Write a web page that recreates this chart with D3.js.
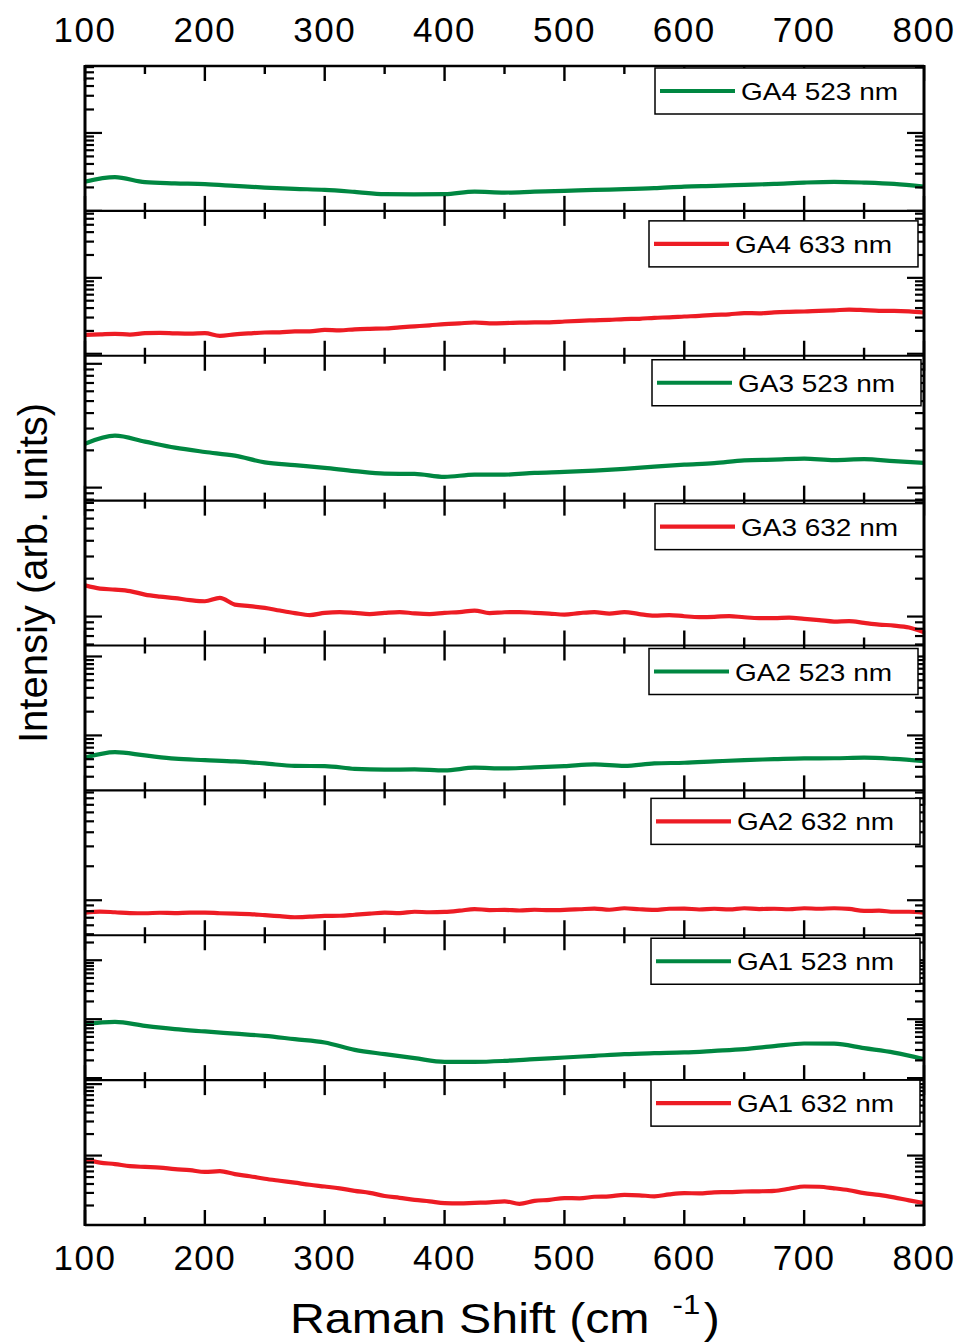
<!DOCTYPE html>
<html>
<head>
<meta charset="utf-8">
<script src="https://cdn.jsdelivr.net/npm/d3@7"></script>
<style>
  body { margin: 0; background: #fff; }
  svg { display: block; }
  text { font-family: "Liberation Sans", Arial, Helvetica, sans-serif; fill: #000; }
</style>
</head>
<body>
<svg id="chart" width="958" height="1344"></svg>
<script>
// Raman shift grids (cm^-1)
const shiftCoarse = [100,125,150,175,200,225,250,275,300,325,350,375,400,425,450,475,500,
  525,550,575,600,625,650,675,700,725,750,775,800];
const shiftFine = [100,112.5,125,137.5,150,162.5,175,187.5,200,212.5,225,237.5,250,262.5,275,287.5,
  300,312.5,325,337.5,350,362.5,375,387.5,400,412.5,425,437.5,450,462.5,475,487.5,500,512.5,525,537.5,
  550,562.5,575,587.5,600,612.5,625,637.5,650,662.5,675,687.5,700,712.5,725,737.5,750,762.5,775,787.5,800];

// Intensities (arb. units)
const ga4_523 = [2376,2704,2333,2254,2200,2093,1990,1915,1860,1753,1637,1628,1637,1767,1717,1763,1805,
  1860,1897,1954,2050,2093,2154,2218,2306,2355,2306,2218,2050];
const ga4_633 = [177.8,180.5,183.3,178.9,187.2,188.9,186.1,184.4,187.2,172.5,
  180.5,186.1,190.7,191.8,197.7,197.7,206.9,203.8,210.1,213.3,
  215.3,223.3,230.1,237.1,245.9,252,258.1,252,253.5,257.3,
  259.7,259.7,266.1,271.8,276,280.2,286.2,288.8,297.7,302.2,
  309.6,316.2,326,331,343.1,341,351.5,356.9,360.2,367.9,
  373.6,381.5,375.8,367.9,367.9,362.4,349.4];
const ga3_523 = [2264,2627,2350,2102,1941,1811,1600,1518,1442,1359,1297,1290,1220,1273,1273,1314,1339,
  1371,1416,1477,1532,1577,1660,1683,1714,1667,1698,1637,1582];
const ga3_632 = [1772,1668,1638,1594,1495,1441,1402,1352,1323,1407,
  1245,1211,1172,1116,1066,1028,1070,1086,1070,1047,
  1070,1086,1060,1047,1070,1086,1116,1066,1082,1086,
  1070,1056,1037,1066,1086,1056,1086,1047,1018,1028,
  1006,991,995,1009,987,973,973,982,959,938,
  913,921,891,864,848,818,750];
const ga2_523 = [522,615,558,507,487,469,442,411,409,377,368,371,360,390,382,394,409,430,411,442,451,
  469,487,500,512,514,522,504,473];
const ga2_632 = [778,794,783,770,767,775,770,778,778,767,
  760,755,737,722,707,715,726,729,744,760,
  778,770,791,783,788,808,836,819,821,811,
  824,816,821,832,844,824,849,832,821,841,
  844,828,841,829,849,836,841,832,849,841,
  849,838,804,808,791,791,778];
const ga1_523 = [822,900,769,677,619,568,521,458,403,302,255,218,189,189,196,210,224,239,255,265,273,
  290,310,349,387,384,322,271,210];
const ga1_632 = [878,797,759,711,693,678,645,625,590,605,
  549,514,474,444,417,390,369,348,321,301,
  272,256,240,229,216,214,218,221,229,211,
  232,240,254,252,265,269,282,278,269,287,
  298,296,306,308,314,316,321,343,369,366,
  348,327,298,282,260,236,216];

// Panels, top to bottom
const panelLabels = ["GA4 523 nm","GA4 633 nm","GA3 523 nm","GA3 632 nm",
                     "GA2 523 nm","GA2 632 nm","GA1 523 nm","GA1 632 nm"];
const panelShifts = [shiftCoarse, shiftFine, shiftCoarse, shiftFine,
                     shiftCoarse, shiftFine, shiftCoarse, shiftFine];
const panelValues = [ga4_523, ga4_633, ga3_523, ga3_632, ga2_523, ga2_632, ga1_523, ga1_632];
// log10 limits of each panel's intensity axis
const panelDecades = [[3.0,4.859],[1.974,3.882],[2.895,4.065],[2.770,3.921],
                      [2.304,4.139],[2.690,3.973],[1.966,4.424],[2.028,4.056]];
const xMajorTicks = [100,200,300,400,500,600,700,800];
const xMinorTicks = [150,250,350,450,550,650,750];

// Styling / layout
const GREEN = "#008741", RED = "#ed1c24";
const panelColors = [GREEN, RED, GREEN, RED, GREEN, RED, GREEN, RED];
const legendLeft = [655, 649, 652, 655, 649, 651, 651, 651];
const legendDrop = [2, 10, 4, 3, 3, 8, 3, 0];
const plotLeft = 85, plotRight = 924, plotTop = 66, plotBottom = 1225;
const panelH = (plotBottom - plotTop) / panelLabels.length;

const svg = d3.select("#chart");
const x = d3.scaleLinear().domain([100, 800]).range([plotLeft, plotRight]);

const defs = svg.append("defs");

panelLabels.forEach((label, i) => {
  const top = plotTop + i * panelH, bottom = top + panelH;
  const y = d3.scaleLog()
    .domain([Math.pow(10, panelDecades[i][0]), Math.pow(10, panelDecades[i][1])])
    .range([bottom, top]);

  defs.append("clipPath").attr("id", "clip" + i)
    .append("rect").attr("x", plotLeft).attr("y", top)
    .attr("width", plotRight - plotLeft).attr("height", panelH);

  const g = svg.append("g");
  const shifts = panelShifts[i];
  const pts = panelValues[i].map((v, k) => [shifts[k], v]);

  g.append("path")
    .datum(pts)
    .attr("clip-path", `url(#clip${i})`)
    .attr("fill", "none")
    .attr("stroke", panelColors[i])
    .attr("stroke-width", 4.2)
    .attr("stroke-linejoin", "round")
    .attr("d", d3.line().curve(d3.curveMonotoneX).x(d => x(d[0])).y(d => y(d[1])));

  // y ticks, left and right, pointing inward
  const yt = y.ticks().filter(t => y(t) >= top - 0.5 && y(t) <= bottom + 0.5);
  yt.forEach(t => {
    const lg = Math.log10(t);
    const major = Math.abs(lg - Math.round(lg)) < 1e-9;
    const len = major ? 17 : 9;
    const py = y(t);
    g.append("line").attr("x1", plotLeft).attr("x2", plotLeft + len)
      .attr("y1", py).attr("y2", py).attr("stroke", "#000").attr("stroke-width", 2.2);
    g.append("line").attr("x1", plotRight).attr("x2", plotRight - len)
      .attr("y1", py).attr("y2", py).attr("stroke", "#000").attr("stroke-width", 2.2);
  });

  // x ticks, top and bottom of the panel, pointing inward
  const xt = xMajorTicks.map(v => [v, 15]).concat(xMinorTicks.map(v => [v, 8]));
  xt.forEach(([v, len]) => {
    g.append("line").attr("x1", x(v)).attr("x2", x(v))
      .attr("y1", top).attr("y2", top + len).attr("stroke", "#000").attr("stroke-width", 2.4);
    g.append("line").attr("x1", x(v)).attr("x2", x(v))
      .attr("y1", bottom).attr("y2", bottom - len).attr("stroke", "#000").attr("stroke-width", 2.4);
  });

  // panel separators
  g.append("line").attr("x1", plotLeft).attr("x2", plotRight)
    .attr("y1", top).attr("y2", top).attr("stroke", "#000").attr("stroke-width", 2.2);

  // legend
  const lx = legendLeft[i], ly = top + legendDrop[i], lw = 269, lh = 46;
  const lg = svg.append("g");
  lg.append("rect").attr("x", lx).attr("y", ly).attr("width", lw).attr("height", lh)
    .attr("fill", "#fff").attr("stroke", "#000").attr("stroke-width", 1.5);
  lg.append("line").attr("x1", lx + 5).attr("x2", lx + 80)
    .attr("y1", ly + lh / 2).attr("y2", ly + lh / 2)
    .attr("stroke", panelColors[i]).attr("stroke-width", 4.2);
  lg.append("text").attr("x", lx + 86).attr("y", ly + lh / 2 + 9)
    .attr("font-size", 24).attr("textLength", 157).attr("lengthAdjust", "spacingAndGlyphs")
    .text(label);
});

// outer frame
svg.append("line").attr("x1", plotLeft).attr("x2", plotRight)
  .attr("y1", plotBottom).attr("y2", plotBottom).attr("stroke", "#000").attr("stroke-width", 2.4);
svg.append("line").attr("x1", plotLeft).attr("x2", plotRight)
  .attr("y1", plotTop).attr("y2", plotTop).attr("stroke", "#000").attr("stroke-width", 2.4);
[plotLeft, plotRight].forEach(px => {
  svg.append("line").attr("x1", px).attr("x2", px)
    .attr("y1", plotTop - 1).attr("y2", plotBottom + 1)
    .attr("stroke", "#000").attr("stroke-width", 3);
});

// x tick labels, top and bottom
xMajorTicks.forEach(v => {
  svg.append("text").attr("x", x(v)).attr("y", 42).attr("text-anchor", "middle")
    .attr("font-size", 35).attr("letter-spacing", 1.5).text(v);
  svg.append("text").attr("x", x(v)).attr("y", 1270).attr("text-anchor", "middle")
    .attr("font-size", 35).attr("letter-spacing", 1.5).text(v);
});

// axis titles
const xt = svg.append("g").attr("transform", "translate(290,1333) scale(1.15,1)")
  .append("text").attr("font-size", 42);
xt.append("tspan").text("Raman Shift (cm");
xt.append("tspan").attr("dx", 20).attr("dy", -19).attr("font-size", 27).text("-1");
xt.append("tspan").attr("dx", 3).attr("dy", 19).text(")");

svg.append("text")
  .attr("transform", "translate(47,573) rotate(-90)")
  .attr("text-anchor", "middle").attr("font-size", 40)
  .text("Intensiy (arb. units)");
</script>
</body>
</html>
